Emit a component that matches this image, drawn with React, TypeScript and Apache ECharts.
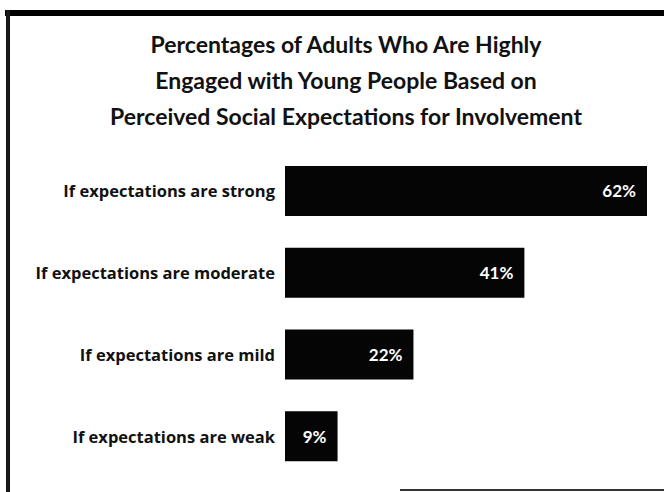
import React, { useEffect, useRef } from "react";
import * as echarts from "echarts";

const titleLines = [
  "Percentages of Adults Who Are Highly",
  "Engaged with Young People Based on",
  "Perceived Social Expectations for Involvement",
];
const categories = [
  "If expectations are strong",
  "If expectations are moderate",
  "If expectations are mild",
  "If expectations are weak",
];
const values = [62, 41, 22, 9];

export default function App() {
  const ref = useRef<HTMLDivElement>(null);
  useEffect(() => {
    if (!ref.current) return;
    const chart = echarts.init(ref.current, null, { renderer: "svg" });
    chart.setOption({
      animation: false,
      backgroundColor: "#ffffff",
      title: {
        text: titleLines.join("\n"),
        left: 341,
        textAlign: "center",
        top: 21,
        textStyle: {
          fontFamily: "Lato",
          fontWeight: "bold",
          fontSize: 23,
          lineHeight: 36,
          color: "#111111",
        },
      },
      grid: { left: 285, right: 17, top: 150, bottom: 15, containLabel: false },
      xAxis: {
        type: "value",
        min: 0,
        max: 62,
        show: false,
      },
      yAxis: {
        type: "category",
        data: categories,
        inverse: true,
        axisLine: { show: false },
        axisTick: { show: false },
        splitLine: { show: false },
        axisLabel: {
          margin: 10,
          color: "#111111",
          fontFamily: "Open Sans",
          fontWeight: "bold",
          fontSize: 16.5,
        },
      },
      series: [
        {
          type: "bar",
          data: values,
          barWidth: 50,
          itemStyle: { color: "#050505" },
          label: {
            show: true,
            position: "insideRight",
            distance: 11,
            formatter: "{c}%",
            color: "#ffffff",
            fontFamily: "Lato",
            fontWeight: "bold",
            fontSize: 17,
          },
        },
      ],
      graphic: [
        { type: "rect", shape: { x: 5, y: 10, width: 659, height: 6 }, style: { fill: "#000000" } },
        { type: "rect", shape: { x: 6, y: 10, width: 4, height: 482 }, style: { fill: "#1a1a1a" } },
        { type: "line", shape: { x1: 400, y1: 490, x2: 664, y2: 490 }, style: { stroke: "#333333", lineWidth: 2 } },
      ],
    });
    return () => chart.dispose();
  }, []);
  return (
    <div
      ref={ref}
      style={{ position: "fixed", left: 0, top: 0, width: 664, height: 492 }}
    />
  );
}
